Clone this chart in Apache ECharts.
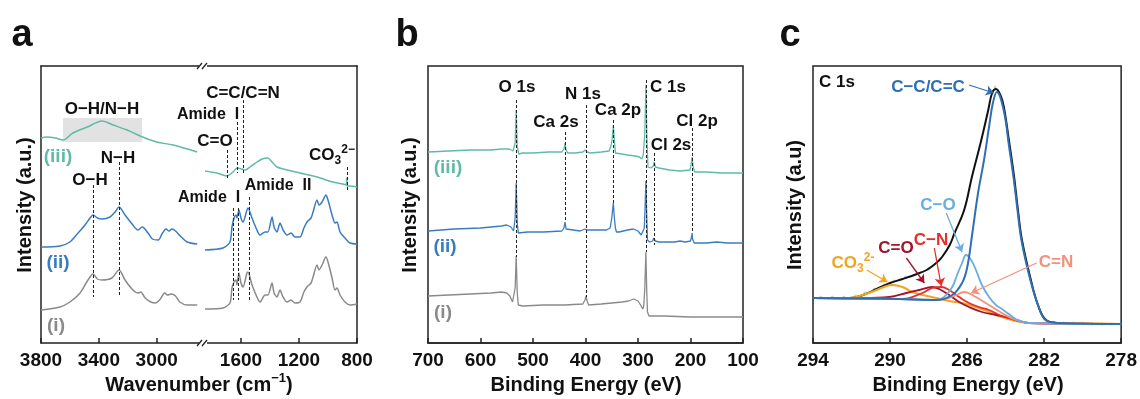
<!DOCTYPE html>
<html><head><meta charset="utf-8">
<script src="https://cdn.jsdelivr.net/npm/echarts@6/dist/echarts.min.js"></script>
<style>html,body{margin:0;padding:0;background:#fff}#c{width:1140px;height:399px}</style>
</head><body><div id="c"></div>
<script>
// ---------- Panel a : FTIR (wavenumber, intensity a.u.) ----------
const ftirTicksLeft = [3000, 3400, 3800];
const ftirTicksRight = [800, 1200, 1600];
const ftirIiiLeft = [[3800,205],[3760,206],[3700,205],[3648,203],[3580,210],[3480,216],[3378,222],[3300,218],[3205,213],[3115,207],[3000,201],[2887,198],[2720,191]];
const ftirIiiRight = [[1848,172],[1766,170],[1697,167],[1655,171],[1628,175],[1593,174],[1572,173],[1538,176],[1490,181],[1455,184],[1414,185],[1386,181],[1352,176],[1283,173],[1193,170],[1076,166],[966,161],[897,159],[875,158],[871,165],[867,157],[850,157],[800,156]];
const ftirIiLeft = [[3800,96],[3669,97],[3600,101],[3544,110],[3496,118],[3461,125],[3440,128],[3410,125],[3378,124],[3323,126],[3288,131],[3261,136],[3219,128],[3170,119],[3130,113],[3100,116],[3060,110],[3030,104],[2990,103],[2960,110],[2935,114],[2915,112],[2895,114],[2870,112],[2830,106],[2790,101],[2720,99]];
const ftirIiRight = [[1848,93],[1724,95],[1676,101],[1662,116],[1648,125],[1634,128],[1628,125],[1614,133],[1600,125],[1586,121],[1559,133],[1552,135],[1524,125],[1490,113],[1469,108],[1434,111],[1414,111],[1386,126],[1372,116],[1352,111],[1331,120],[1310,113],[1283,108],[1255,110],[1228,106],[1193,106],[1166,115],[1145,121],[1117,125],[1103,131],[1076,143],[1062,138],[1041,141],[1014,148],[1000,143],[972,128],[952,120],[938,121],[917,111],[883,105],[848,100],[800,99]];
const ftirILeft = [[3800,33],[3669,36],[3600,41],[3530,50],[3475,63],[3440,69],[3410,64],[3378,63],[3310,65],[3261,73],[3219,63],[3165,53],[3130,50],[3110,51],[3080,45],[3040,41],[3010,40],[2975,44],[2945,50],[2925,48],[2900,49],[2870,47],[2840,41],[2790,38],[2720,38]];
const ftirIRight = [[1848,34],[1724,35],[1676,40],[1662,55],[1648,61],[1634,63],[1628,58],[1614,70],[1600,60],[1586,56],[1559,70],[1552,71],[1524,58],[1490,46],[1469,41],[1434,48],[1414,48],[1386,60],[1372,50],[1352,46],[1331,53],[1310,46],[1283,41],[1255,43],[1228,40],[1193,41],[1166,51],[1145,56],[1117,60],[1103,66],[1076,78],[1062,73],[1041,78],[1014,86],[1000,81],[972,65],[952,53],[938,55],[917,48],[883,41],[848,38],[800,39]];
// marker lines: [wavenumber, yTop, yBottom]
const ftirMarkersLeft = [[3440,158,46],[3261,181,46]];
const ftirMarkersRight = [[1695,193,165],[1623,221,170],[1584,243,168],[869,176,153],[1653,135,43],[1622,135,43],[1545,146,43]];
const ftirHighlight = [3648, 201, 3101, 225];

// ---------- Panel b : XPS survey ----------
const surveyTicks = [100, 200, 300, 400, 500, 600, 700];
const surveyIii = [[700,191],[660,192],[620,193],[580,193],[560,194],[545,194],[538,192],[534,200],[532,233],[530,196],[527,189],[520,190],[500,190],[470,191],[445,191],[441,194],[439,200],[437,193],[434,190],[420,190],[405,191],[401,193],[399,194],[397,191],[390,190],[370,191],[355,192],[351,198],[349,205],[347,218],[345,203],[343,190],[340,188],[320,188],[305,187],[297,186],[293,184],[290,188],[287,210],[285,258],[283,205],[281,176],[275,175],[271,177],[269,181],[267,176],[260,175],[240,173],[220,172],[201,173],[199,178],[197,186],[195,176],[192,171],[170,171],[140,170],[100,170]];
const surveyIi = [[700,112],[650,114],[600,115],[560,117],[550,118],[542,116],[537,112],[534,125],[532,160],[530,120],[528,110],[510,111],[480,111],[445,112],[441,115],[439,121],[437,114],[434,112],[410,112],[401,114],[399,115],[397,113],[380,113],[360,113],[353,115],[350,125],[348,135],[347,140],[345,125],[343,115],[341,111],[336,111],[320,113],[309,114],[300,112],[294,108],[291,107],[288,115],[286.5,135],[285,162],[283.5,130],[282,103],[278,101],[272,102],[270,105],[269,107],[267,102],[260,101],[230,101],[220,102],[210,101],[200,102],[198,106],[197,110],[196,104],[193,100],[170,100],[150,101],[130,100],[100,100]];
const surveyI = [[700,47],[660,48],[620,49],[580,50],[560,51],[550,50],[544,47],[539,41],[536,42],[534,55],[532,87],[530,50],[528,38],[520,37],[480,38],[440,38],[405,39],[401,43],[399,47],[397,42],[394,38],[370,39],[350,40],[330,41],[318,42],[308,44],[300,42],[295,38],[291,34],[289,37],[287,55],[285,91],[283.5,55],[282,31],[279,27],[250,27],[200,26],[150,26],[100,26]];
const surveyMarkers = [[532,243,86],[439,211,121],[399,238,46],[347,223,138],[285,263,91],[269,190,98],[197,215,110]];

// ---------- Panel c : C 1s high resolution ----------
const c1sTicks = [278, 282, 286, 290, 294];
const c1sRaw = [[293.6,46],[293.0,46],[292.4,46],[291.8,47],[291.3,50],[290.8,54],[290.3,58],[289.8,62],[289.2,66],[288.6,70],[288.0,74],[287.4,84],[284.55,256],[282.0,24],[281.5,21],[281.0,20],[280.5,20],[280.0,20],[279.5,19],[279.0,19],[278.5,19]];
const c1sEnvelope = [[294,45],[292.1,45],[291.4,48],[290.7,54],[290.0,60],[289.35,64],[288.6,69],[288.1,73],[287.6,80],[287.3,86],[286.9,98],[286.65,110],[286.15,133],[285.75,166],[285.3,200],[284.9,233],[284.7,250],[284.5,254],[284.25,247],[284.09,236],[283.83,203],[283.57,168],[283.37,135],[283.16,104],[282.7,64],[282.3,37],[281.9,23],[281.25,20],[280,19],[278,19]];
const c1sCC = [[294,45],[289.51,44],[287.6,43],[286.77,48],[286.26,60],[286.0,75],[285.74,108],[285.43,150],[285.12,183],[284.86,216],[284.66,240],[284.45,251],[284.09,232],[283.83,198],[283.57,163],[283.37,131],[283.16,101],[282.7,62],[282.28,36],[281.92,23],[281.25,20],[278,19]];
const c1sCO = [[294,45],[289.51,44],[287.6,43],[287.19,46],[286.77,56],[286.52,68],[286.26,80],[286.05,88],[285.79,83],[285.54,73],[285.23,58],[284.86,46],[284.5,38],[284.19,34],[283.83,29],[283.47,24],[282.8,20],[278,19]];
const c1sCN = [[294,45],[289.35,44],[288.32,50],[287.81,55],[287.34,56],[286.93,53],[286.41,46],[285.9,40],[285.38,36],[284.86,33],[284.19,27],[283.47,23],[282.8,20],[278,19]];
const c1sCdO = [[294,45],[291.42,45],[290.03,46],[289.15,50],[288.48,53],[287.81,56],[287.45,54],[286.93,48],[286.41,41],[285.9,36],[285.23,31],[284.5,28],[283.83,25],[283.32,22],[282.8,20],[278,19]];
const c1sCdN = [[294,45],[289.51,44],[287.45,43],[286.67,47],[286.15,51],[285.64,47],[284.86,38],[284.19,30],[283.47,23],[282.8,20],[278,19]];
const c1sCO3 = [[294,45],[292.09,45],[291.42,48],[290.7,53],[290.18,57],[289.87,58],[289.35,56],[288.84,51],[288.32,48],[287.6,45],[286.93,42],[286.26,40],[285.54,36],[284.86,31],[284.19,26],[283.47,22],[282.8,20],[281.92,20],[278,19]];
// arrows: [name, fromE, fromI, toE, toI]
const c1sArrows = [['CC',285.90,258,284.61,250],['CO',287.08,130,286.26,91],['CN',287.70,95,287.34,57],['CdO',289.15,85,288.22,60],['CO3',291.21,73,290.13,61],['CdN',282.39,80,285.79,50]];

// ---------- styles ----------
const FF = '"Liberation Sans", Arial, Helvetica, sans-serif';
const COL = {teal:'#5fbaa8', blue:'#3b7cbf', gray:'#8a8a8a', ink:'#111',
  CC:'#2f6fb3', CO:'#6aaee0', CN:'#e3302c', CdO:'#a3132b', CO3:'#f2a423', CdN:'#f4907c'};
const AX = {color:'#222', width:1.5};

function bottomAxis(gi, min, max, ticks) {
  return {type:'value', gridIndex:gi, min, max, inverse:true, position:'bottom',
    axisLine:{show:true, onZero:false, lineStyle:AX},
    axisTick:{show:true, inside:true, length:5, customValues:ticks, lineStyle:AX},
    axisLabel:{show:true, customValues:ticks, formatter:v => String(v), color:COL.ink, fontSize:19, fontWeight:'bold', fontFamily:FF, margin:8},
    splitLine:{show:false}};
}
function topAxis(gi, min, max) {
  return {type:'value', gridIndex:gi, min, max, inverse:true, position:'top',
    axisLine:{show:true, onZero:false, lineStyle:AX}, axisTick:{show:false}, axisLabel:{show:false}, splitLine:{show:false}};
}
function yAx(gi, pos, showLine) {
  return {type:'value', gridIndex:gi, min:0, max:277, position:pos,
    axisLine:{show:showLine, lineStyle:AX}, axisTick:{show:false}, axisLabel:{show:false}, splitLine:{show:false}};
}
function L(xi, yi, data, color, width, smooth, extra) {
  return Object.assign({type:'line', xAxisIndex:xi, yAxisIndex:yi, data, symbol:'none', showSymbol:false,
    smooth, lineStyle:{color, width}, itemStyle:{color}, silent:true, emphasis:{disabled:true}}, extra || {});
}
function dashes(list) {
  return {silent:true, symbol:['none','none'], label:{show:false}, emphasis:{disabled:true},
    lineStyle:{type:[3,2], color:'#222', width:1},
    data:list.map(m => [{coord:[m[0], m[1]]}, {coord:[m[0], m[2]]}])};
}
function T(x, y, text, color, size, extra) {
  return {type:'text', x, y, z:100, silent:true, style:Object.assign({text, fill:color,
    font:'bold ' + size + 'px ' + FF, align:'center', verticalAlign:'middle'}, extra || {})};
}
function chem(color, size) {
  return {rich:{
    sub:{fontSize:12, lineHeight:12, verticalAlign:'bottom', fontWeight:'bold', fontFamily:FF, fill:color},
    sup:{fontSize:12, lineHeight:12, verticalAlign:'top', fontWeight:'bold', fontFamily:FF, fill:color}},
    lineHeight:size + 6};
}
function breakMark(x, y) {
  return [
    {type:'rect', z:90, silent:true, shape:{x:x-4, y:y-4, width:8, height:8}, style:{fill:'#fff'}},
    {type:'line', z:91, silent:true, shape:{x1:x-6, y1:y+3, x2:x-1, y2:y-3}, style:{stroke:'#222', lineWidth:1.3}},
    {type:'line', z:91, silent:true, shape:{x1:x-1, y1:y+3, x2:x+4, y2:y-3}, style:{stroke:'#222', lineWidth:1.3}}
  ];
}

const chart = echarts.init(document.getElementById('c'), null, {renderer:'canvas'});
const option = {
  animation:false,
  backgroundColor:'#fff',
  grid:[
    {left:41, top:66, width:162, height:277},
    {left:203, top:66, width:154, height:277},
    {left:428, top:66, width:315, height:277, show:true, borderColor:'#222', borderWidth:1.5},
    {left:813, top:66, width:310, height:277, show:true, borderColor:'#222', borderWidth:1.5}
  ],
  xAxis:[
    bottomAxis(0, 2680, 3800, ftirTicksLeft),
    bottomAxis(1, 800, 1862, ftirTicksRight),
    bottomAxis(2, 100, 700, surveyTicks),
    bottomAxis(3, 278, 294, c1sTicks),
    topAxis(0, 2680, 3800),
    topAxis(1, 800, 1862)
  ],
  yAxis:[yAx(0,'left',true), yAx(1,'right',true), yAx(2,'left',false), yAx(3,'left',false)],
  series:[
    // panel a left
    L(0,0,ftirILeft,COL.gray,1.5,0.3,{
      markArea:{silent:true, itemStyle:{color:'#e2e2e2'},
        data:[[{coord:[ftirHighlight[0], ftirHighlight[1]]},{coord:[ftirHighlight[2], ftirHighlight[3]]}]]},
      markLine:dashes(ftirMarkersLeft)}),
    L(0,0,ftirIiLeft,COL.blue,1.5,0.3),
    L(0,0,ftirIiiLeft,COL.teal,1.5,0.3),
    // panel a right
    L(1,1,ftirIRight,COL.gray,1.5,0.25,{markLine:dashes(ftirMarkersRight)}),
    L(1,1,ftirIiRight,COL.blue,1.5,0.25),
    L(1,1,ftirIiiRight,COL.teal,1.5,0.25),
    // panel b
    L(2,2,surveyI,COL.gray,1.3,false,{markLine:dashes(surveyMarkers)}),
    L(2,2,surveyIi,COL.blue,1.3,false),
    L(2,2,surveyIii,COL.teal,1.3,false),
    // panel c
    {type:'scatter', xAxisIndex:3, yAxisIndex:3, data:c1sRaw, symbolSize:3, itemStyle:{color:'#c4c4c4'}, silent:true},
    L(3,3,c1sEnvelope,'#111',2,0.4),
    L(3,3,c1sCO3,COL.CO3,2,0.4),
    L(3,3,c1sCdO,COL.CdO,1.8,0.4),
    L(3,3,c1sCN,COL.CN,1.8,0.4),
    L(3,3,c1sCdN,COL.CdN,1.8,0.4),
    L(3,3,c1sCO,COL.CO,1.8,0.4),
    L(3,3,c1sCC,COL.CC,2,0.4,{markLine:{silent:true, symbol:['none','arrow'], symbolSize:8, label:{show:false},
      emphasis:{disabled:true},
      data:c1sArrows.map(a => [{coord:[a[1],a[2]], lineStyle:{color:COL[a[0]], width:1.3, type:'solid'}, itemStyle:{color:COL[a[0]]}},
                              {coord:[a[3],a[4]], lineStyle:{color:COL[a[0]], width:1.3, type:'solid'}, itemStyle:{color:COL[a[0]]}}])}})
  ],
  graphic:[
    // panel letters
    T(22, 36, 'a', COL.ink, 38), T(407, 36, 'b', COL.ink, 38), T(790, 36, 'c', COL.ink, 38),
    // axis titles
    T(199, 385, 'Wavenumber (cm{sup|−1})', COL.ink, 20, {rich:{sup:{fontSize:13, lineHeight:13, verticalAlign:'top', fontWeight:'bold', fontFamily:FF, fill:COL.ink}}, lineHeight:26}),
    T(586, 385, 'Binding Energy (eV)', COL.ink, 20),
    T(968, 385, 'Binding Energy (eV)', COL.ink, 20),
    Object.assign(T(25, 205, 'Intensity (a.u.)', COL.ink, 20), {rotation:Math.PI/2}),
    Object.assign(T(410, 205, 'Intensity (a.u.)', COL.ink, 20), {rotation:Math.PI/2}),
    Object.assign(T(795, 205, 'Intensity (a.u)', COL.ink, 20), {rotation:Math.PI/2}),
    // panel a labels
    T(102, 109, 'O−H/N−H', COL.ink, 17),
    T(208, 115, 'Amide  I', COL.ink, 16),
    T(243, 93, 'C=C/C=N', COL.ink, 17),
    T(215, 141, 'C=O', COL.ink, 17),
    T(332, 155, 'CO{sub|3}{sup|2−}', COL.ink, 17, chem(COL.ink, 17)),
    T(118, 158, 'N−H', COL.ink, 17),
    T(90, 180, 'O−H', COL.ink, 17),
    T(209, 198, 'Amide  I', COL.ink, 16),
    T(278, 186, 'Amide  II', COL.ink, 16),
    T(58, 157, '(iii)', COL.teal, 19),
    T(58, 263, '(ii)', COL.blue, 19),
    T(56, 326, '(i)', COL.gray, 19),
    // panel b labels
    T(517, 87, 'O 1s', COL.ink, 17),
    T(556, 122, 'Ca 2s', COL.ink, 17),
    T(583, 94, 'N 1s', COL.ink, 17),
    T(618, 110, 'Ca 2p', COL.ink, 17),
    T(668, 87, 'C 1s', COL.ink, 17),
    T(671, 145, 'Cl 2s', COL.ink, 17),
    T(697, 121, 'Cl 2p', COL.ink, 17),
    T(448, 168, '(iii)', COL.teal, 19),
    T(445, 247, '(ii)', COL.blue, 19),
    T(443, 313, '(i)', COL.gray, 19),
    // panel c labels
    T(837, 82, 'C 1s', COL.ink, 17),
    T(928, 87, 'C−C/C=C', COL.CC, 17),
    T(938, 205, 'C−O', COL.CO, 17),
    T(931, 240, 'C−N', COL.CN, 17),
    T(896, 248, 'C=O', COL.CdO, 17),
    T(853, 263, 'CO{sub|3}{sup|2-}', COL.CO3, 17, chem(COL.CO3, 17)),
    T(1056, 262, 'C=N', COL.CdN, 17)
  ].concat(breakMark(203, 66), breakMark(203, 343))
};
chart.setOption(option);
</script></body></html>
